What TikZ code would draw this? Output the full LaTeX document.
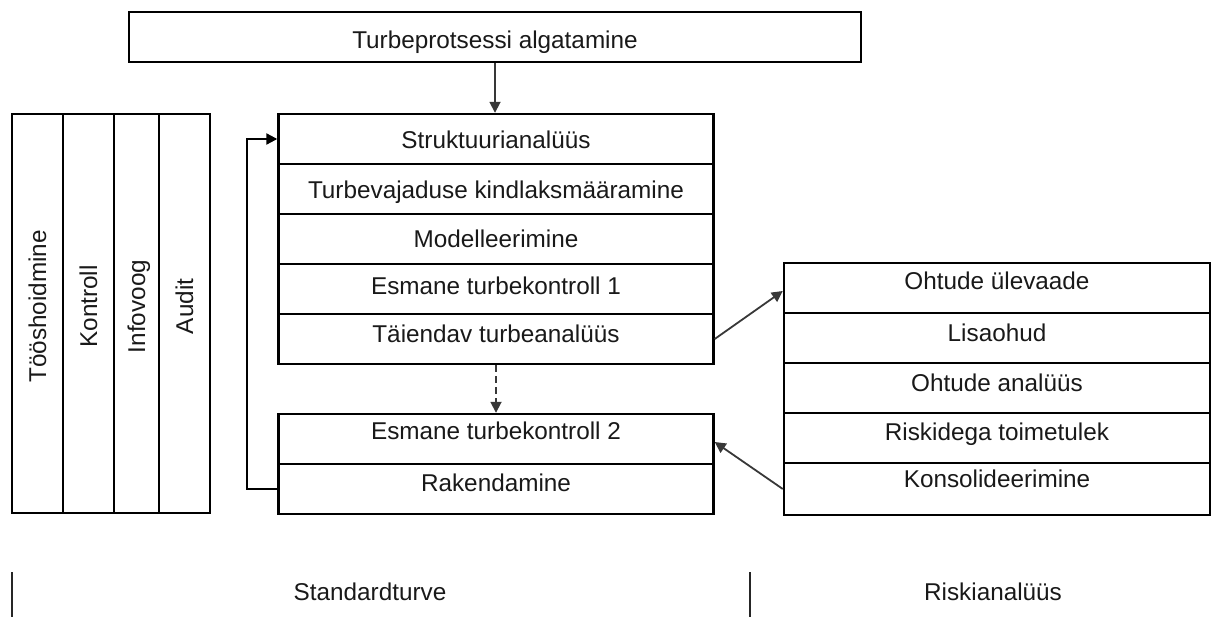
\documentclass[tikz,border=0pt]{standalone}
\usepackage{fontspec}
\setmainfont{Liberation Sans}
\usetikzlibrary{arrows.meta,calc}
\begin{document}
\begin{tikzpicture}[x=1pt,y=-1pt,
  txt/.style={font=\fontsize{24.3}{28}\selectfont, text=black!90},
  box/.style={txt, draw=black, line width=2.4pt, rectangle, inner sep=0pt,
    text height=19pt, text depth=1.6pt},
  topbox/.style={box, minimum width=732pt, minimum height=50pt},
  midrow/.style={box, minimum width=435pt, minimum height=50pt},
  rightrow/.style={box, minimum width=426pt, minimum height=50pt},
  col/.style={box, minimum width=399pt, rotate=90},
  conn/.style={draw=black!78, line width=1.8pt, -{Triangle[length=11pt,width=11pt]}},
  divider/.style={draw=black!85, line width=2pt}
]
\useasboundingbox (0,0) rectangle (1212,617);

% top box
\node[topbox] (start) at (495,37) {\raisebox{-3pt}{Turbeprotsessi algatamine}};

% left columns
\node[col, minimum height=51pt] (c1) at (37.5,313.5) {\hspace*{14pt}Tööshoidmine};
\node[col, minimum height=51pt] (c2) at (88.5,313.5) {\hspace*{14pt}Kontroll};
\node[col, minimum height=45pt] (c3) at (136.5,313.5) {\hspace*{14pt}Infovoog};
\node[col, minimum height=51pt] (c4) at (184.5,313.5) {\hspace*{14pt}Audit};

% middle upper stack
\node[midrow] (m1) at (496,139) {\raisebox{-1pt}{Struktuurianalüüs}};
\node[midrow] (m2) at (496,189) {\raisebox{-1pt}{Turbevajaduse kindlaksmääramine}};
\node[midrow] (m3) at (496,239) {Modelleerimine};
\node[midrow] (m4) at (496,289) {\raisebox{3pt}{Esmane turbekontroll 1}};
\node[midrow] (m5) at (496,339) {\raisebox{5pt}{Täiendav turbeanalüüs}};

% middle lower stack
\node[midrow] (b1) at (496,439) {\raisebox{8pt}{Esmane turbekontroll 2}};
\node[midrow] (b2) at (496,489) {\raisebox{6pt}{Rakendamine}};

% right stack
\node[rightrow] (r1) at (997,288) {\raisebox{7pt}{Ohtude ülevaade}};
\node[rightrow] (r2) at (997,338) {\raisebox{5pt}{Lisaohud}};
\node[rightrow] (r3) at (997,388) {\raisebox{5pt}{Ohtude analüüs}};
\node[rightrow] (r4) at (997,438) {\raisebox{6pt}{Riskidega toimetulek}};
\node[rightrow, minimum height=52pt] (r5) at (997,489) {\raisebox{10pt}{Konsolideerimine}};

% connectors
\draw[conn] (start.south) -- (start.south |- m1.north);
\draw[conn, dash pattern=on 7pt off 4pt] (m5.south) -- (b1.north);
\draw[conn, draw=black, line width=2.2pt] (b2.west) -- ++(-30,0) |- (m1.west);
\draw[conn] (m5.east) -- ($(r1.west)+(0,3)$);
\draw[conn] (r5.west) -- ($(b1.east)+(0,3)$);

% bottom labels
\coordinate (d1a) at (12,572);
\coordinate (d1b) at (12,617);
\coordinate (d2a) at (750,572);
\coordinate (d2b) at (750,617);
\draw[divider] (d1a) -- (d1b);
\draw[divider] (d2a) -- (d2b);
\node[txt] (std) at (370,592) {Standardturve};
\node[txt] (risk) at (993,592) {Riskianalüüs};
\end{tikzpicture}
\end{document}
